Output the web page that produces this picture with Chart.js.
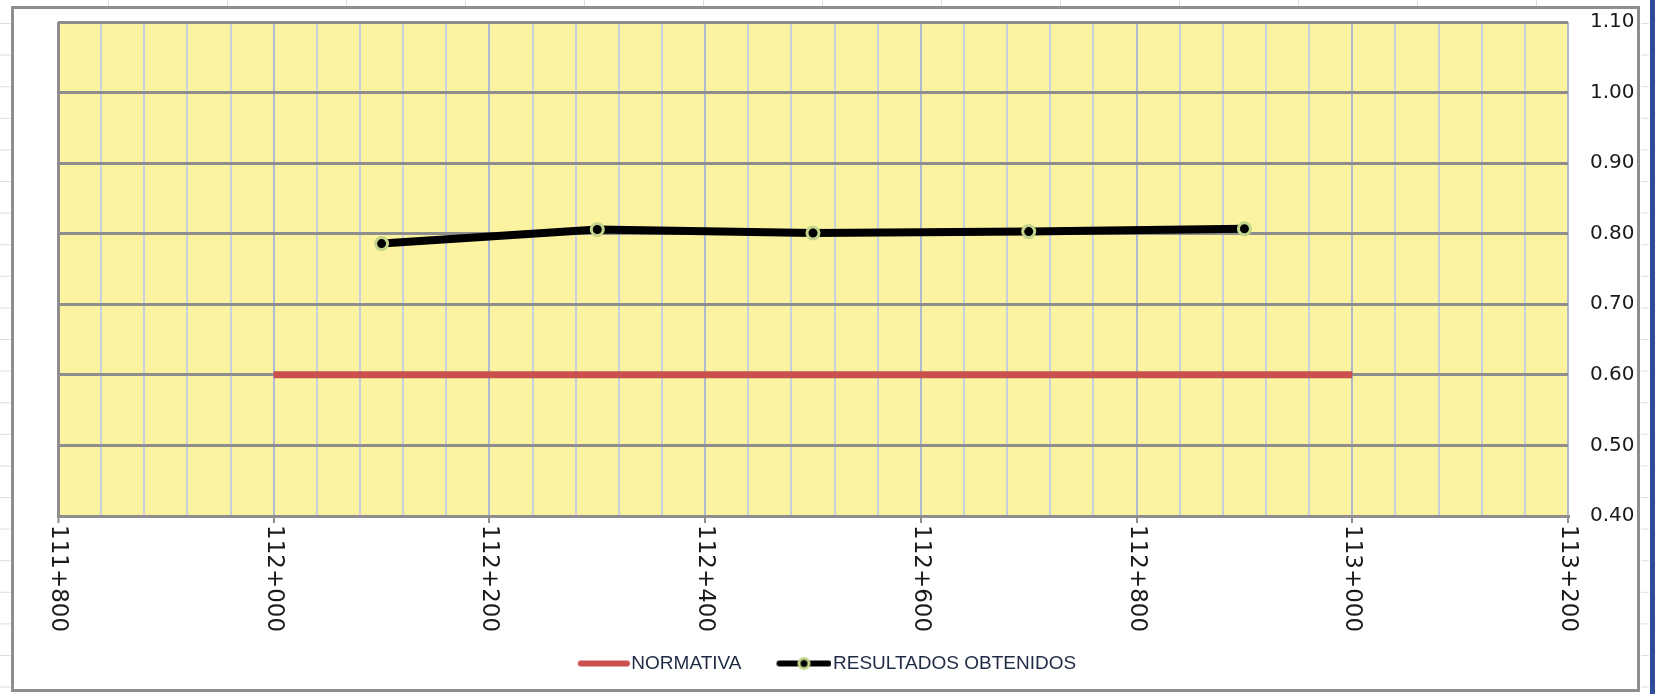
<!DOCTYPE html>
<html>
<head>
<meta charset="utf-8">
<script src="https://cdn.jsdelivr.net/npm/chart.js@4.4.0/dist/chart.umd.min.js"></script>
<style>
  html, body { margin: 0; padding: 0; background: #fff; }
</style>
</head>
<body>
<canvas id="chart" width="1657" height="694"></canvas>
<script>
// chainage (m) of each measurement and the measured values
const stations = [112100, 112300, 112500, 112700, 112900];
const resultados = [0.786, 0.806, 0.801, 0.803, 0.807];
// limit line from the standard
const normaStations = [112000, 113000];
const normaValues = [0.60, 0.60];

const seriesNames = ['NORMATIVA', 'RESULTADOS OBTENIDOS'];
const xTickValues = [111800, 112000, 112200, 112400, 112600, 112800, 113000, 113200];
const xTickLabels = ['111+800', '112+000', '112+200', '112+400', '112+600', '112+800', '113+000', '113+200'];
const xMinor = 40;
const yMin = 0.40, yMax = 1.10, yStep = 0.10;

// legend icons: line (and marker) pushed to the right so it touches the text
function legendIcon(color, withDot) {
  const c = document.createElement('canvas');
  c.width = 88; c.height = 18;
  const g = c.getContext('2d');
  const x0 = withDot ? 36 : 39;
  g.strokeStyle = color;
  g.lineWidth = 6;
  g.lineCap = 'round';
  g.beginPath(); g.moveTo(x0, 9); g.lineTo(85, 9); g.stroke();
  if (withDot) {
    g.beginPath();
    g.arc((x0 + 85) / 2, 9, 5, 0, 2 * Math.PI);
    g.fillStyle = '#000'; g.fill();
    g.lineWidth = 3; g.strokeStyle = '#c3d58a'; g.stroke();
  }
  return c;
}
const icons = [legendIcon('#c9504c', false), legendIcon('#000', true)];

const frame = {
  id: 'frame',
  beforeDraw(chart) {
    const g = chart.ctx, a = chart.chartArea;
    g.save();
    g.fillStyle = '#fff';
    g.fillRect(0, 0, chart.width, chart.height);
    // spreadsheet cells peeking out around the chart object
    g.strokeStyle = '#dedede'; g.lineWidth = 1;
    g.beginPath();
    for (let y = 23.5; y < 694; y += 31.6) {
      g.moveTo(0, y); g.lineTo(11, y);
      g.moveTo(1641, y); g.lineTo(1649, y);
    }
    for (let x = 108.5; x < 1640; x += 119) { g.moveTo(x, 0); g.lineTo(x, 6); }
    g.stroke();
    g.strokeStyle = '#8e8e8e'; g.lineWidth = 3;
    g.strokeRect(12.5, 7.5, 1626, 683);
    g.fillStyle = '#2f4c9c';
    g.fillRect(1650, 0, 5, chart.height);
    // plot area
    g.fillStyle = '#fcf3a0';
    g.fillRect(a.left, a.top, a.right - a.left, a.bottom - a.top);
    g.restore();
  }
};

// x labels read top to bottom (rotated clockwise), chart.js only rotates the other way
const xLabels = {
  id: 'xLabels',
  afterDraw(chart) {
    const sc = chart.scales.x, g = chart.ctx;
    g.save();
    g.font = '23px "DejaVu Sans"';
    g.fillStyle = '#1a1a1a';
    g.textAlign = 'left';
    g.textBaseline = 'middle';
    xTickValues.forEach((v, i) => {
      g.save();
      g.translate(sc.getPixelForValue(v), sc.top + 9);
      g.rotate(Math.PI / 2);
      g.fillText(xTickLabels[i], 0, 0);
      g.restore();
    });
    g.restore();
  }
};

const isMajor = v => (v - xTickValues[0]) % 200 === 0;

new Chart(document.getElementById('chart'), {
  type: 'line',
  data: {
    datasets: [
      {
        label: seriesNames[0],
        data: normaStations.map((x, i) => ({ x: x, y: normaValues[i] })),
        borderColor: '#c9504c',
        backgroundColor: '#c9504c',
        borderWidth: 7,
        borderCapStyle: 'butt',
        pointRadius: 0,
        order: 2
      },
      {
        label: seriesNames[1],
        data: stations.map((x, i) => ({ x: x, y: resultados[i] })),
        borderColor: '#000',
        backgroundColor: '#000',
        borderWidth: 8,
        pointRadius: 6,
        pointBorderWidth: 3,
        pointBackgroundColor: '#000',
        pointBorderColor: '#c3d58a',
        order: 1
      }
    ]
  },
  options: {
    responsive: false,
    animation: false,
    devicePixelRatio: 1,
    layout: { padding: { left: 58, top: 22, right: 0, bottom: 11 } },
    scales: {
      x: {
        type: 'linear',
        min: xTickValues[0],
        max: xTickValues[xTickValues.length - 1],
        afterFit: s => { s.height = 128; },
        ticks: { display: false, stepSize: xMinor },
        grid: {
          color: c => c.tick.value === xTickValues[0] ? '#8e8e8e' : (isMajor(c.tick.value) ? '#aebad4' : '#c8cfdf'),
          lineWidth: c => c.tick.value === xTickValues[0] ? 3 : 2,
          drawTicks: true,
          tickLength: 7,
          tickWidth: 2,
          tickColor: c => isMajor(c.tick.value) ? '#8e8e8e' : 'rgba(0,0,0,0)'
        },
        border: { display: true, color: '#8e8e8e', width: 3 }
      },
      y: {
        position: 'right',
        min: yMin,
        max: yMax,
        afterFit: s => { s.width = 89; },
        ticks: {
          stepSize: yStep,
          padding: 2,
          color: '#1a1a1a',
          font: { family: 'DejaVu Sans', size: 20 },
          callback: v => v.toFixed(2)
        },
        // invisible tick marks only push the labels away from the plot
        grid: { color: '#8e8e8e', lineWidth: 3, drawTicks: true, tickLength: 20, tickColor: 'rgba(0,0,0,0)' },
        border: { display: false }
      }
    },
    plugins: {
      tooltip: { enabled: false },
      legend: {
        position: 'bottom',
        fullSize: false,
        labels: {
          usePointStyle: true,
          pointStyleWidth: 72,
          padding: 10,
          color: '#1f2a44',
          font: { family: 'Liberation Sans', size: 19 },
          sort: (a, b) => a.datasetIndex - b.datasetIndex,
          generateLabels(chart) {
            const items = Chart.defaults.plugins.legend.labels.generateLabels(chart);
            items.forEach(it => { it.pointStyle = icons[it.datasetIndex]; });
            return items;
          }
        }
      }
    }
  },
  plugins: [frame, xLabels]
});
</script>
</body>
</html>
